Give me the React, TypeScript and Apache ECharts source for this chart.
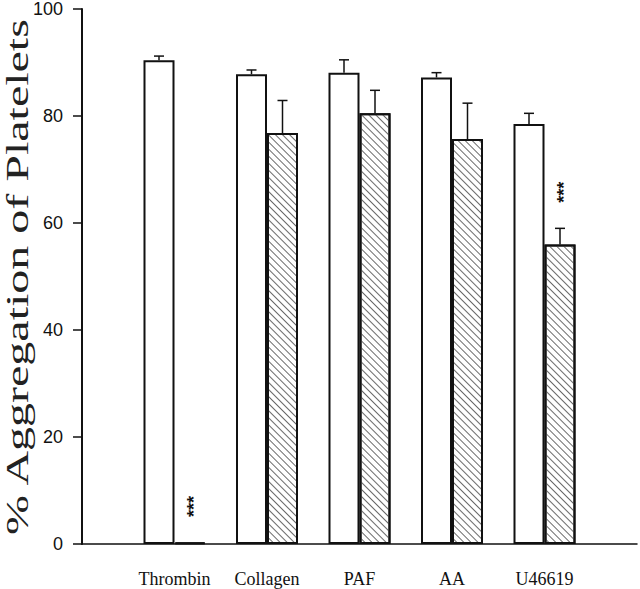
import React, { useEffect, useRef } from "react";
import * as echarts from "echarts";

const categories = ["", "Thrombin", "Collagen", "PAF", "AA", "U46619", ""];
const controlValues = [null, 90.4, 87.8, 88.1, 87.2, 78.5, null];
const controlErrors = [null, 0.8, 0.8, 2.4, 0.9, 2.0, null];
const treatedValues = [null, 0.3, 76.8, 80.5, 75.7, 56.0, null];
const treatedErrors = [null, 0, 6.1, 4.3, 6.7, 3.0, null];
const treatedSignificance = ["", "***", "", "", "", "***", ""];
const yTicks = [0, 20, 40, 60, 80, 100];
const yTitle = "% Aggregation of Platelets";

const BAR_W = 31;
const SERIF = "'Liberation Serif', 'Times New Roman', serif";
const SANS = "'Liberation Sans', Arial, sans-serif";

function errorSeries(values: (number | null)[], errors: (number | null)[], sig: string[] | null, offset: number) {
  const data = values
    .map((v, i) => (v == null ? null : [i, v, errors[i] ?? 0, sig ? sig[i] : ""]))
    .filter((d) => d !== null);
  return {
    type: "custom",
    z: 10,
    data,
    renderItem: (params: any, api: any) => {
      const idx = api.value(0);
      const val = api.value(1);
      const err = api.value(2);
      const label = data[params.dataIndex] ? (data[params.dataIndex] as any)[3] : "";
      const base = api.coord([idx, val]);
      const top = api.coord([idx, val + err]);
      const x = base[0] + offset;
      const children: any[] = [];
      if (err > 0) {
        children.push({
          type: "line",
          shape: { x1: x, y1: base[1], x2: x, y2: top[1] },
          style: { stroke: "#111", lineWidth: 1.5 },
        });
        children.push({
          type: "line",
          shape: { x1: x - 5, y1: top[1], x2: x + 5, y2: top[1] },
          style: { stroke: "#111", lineWidth: 1.5 },
        });
      }
      if (label) {
        const cy = top[1] - 36;
        children.push({
          type: "rect",
          shape: { x: x + 3, y: cy - 1, width: 2, height: 2 },
          style: { fill: "rgba(0,0,0,0)" },
          textContent: {
            style: {
              text: label,
              font: `bold 18px ${SANS}`,
              fill: "#111",
            },
          },
          textConfig: { position: "inside", rotation: Math.PI / 2 },
        });
      }
      return { type: "group", children };
    },
  };
}

export default function App() {
  const ref = useRef<HTMLDivElement>(null);
  useEffect(() => {
    if (!ref.current) return;
    const chart = echarts.init(ref.current, null, { renderer: "svg" });
    chart.setOption({
      animation: false,
      backgroundColor: "#fff",
      grid: { left: 82, right: 2, top: 5, bottom: 45, containLabel: false },
      xAxis: {
        type: "category",
        data: categories,
        boundaryGap: false,
        axisLine: { lineStyle: { color: "#111", width: 1.5 } },
        axisTick: { show: false },
        axisLabel: {
          interval: 0,
          color: "#111",
          fontFamily: SERIF,
          fontSize: 18,
          margin: 26,
        },
        splitLine: { show: false },
      },
      yAxis: {
        type: "value",
        min: yTicks[0],
        max: yTicks[yTicks.length - 1],
        interval: 20,
        axisLine: { show: true, lineStyle: { color: "#111", width: 2 } },
        axisTick: { show: true, length: 9, lineStyle: { color: "#111", width: 1.5 } },
        axisLabel: { color: "#111", fontFamily: SANS, fontSize: 18, margin: 19 },
        splitLine: { show: false },
      },
      graphic: [
        {
          type: "text",
          x: 17,
          y: 277,
          rotation: Math.PI / 2,
          scaleX: 1.5,
          scaleY: 1,
          style: {
            text: yTitle,
            font: `32px ${SERIF}`,
            fill: "#222",
            align: "center",
            verticalAlign: "middle",
          },
        },
      ],
      series: [
        {
          type: "bar",
          data: controlValues,
          barWidth: BAR_W,
          barGap: "0%",
          itemStyle: { color: "#fff", borderColor: "#111", borderWidth: 2 },
        },
        {
          type: "bar",
          data: treatedValues,
          barWidth: BAR_W,
          barGap: "0%",
          itemStyle: {
            color: "#fff",
            borderColor: "#111",
            borderWidth: 2,
            decal: {
              symbol: "rect",
              symbolSize: 1,
              color: "#6a6a6a",
              backgroundColor: "#fff",
              dashArrayX: [1, 0],
              dashArrayY: [1, 4],
              rotation: Math.PI / 4,
            },
          },
        },
        errorSeries(controlValues, controlErrors, null, -BAR_W / 2),
        errorSeries(treatedValues, treatedErrors, treatedSignificance, BAR_W / 2),
      ],
    });
    return () => chart.dispose();
  }, []);
  return (
    <div
      ref={ref}
      style={{ position: "absolute", left: 0, top: 0, width: 640, height: 589 }}
    />
  );
}
